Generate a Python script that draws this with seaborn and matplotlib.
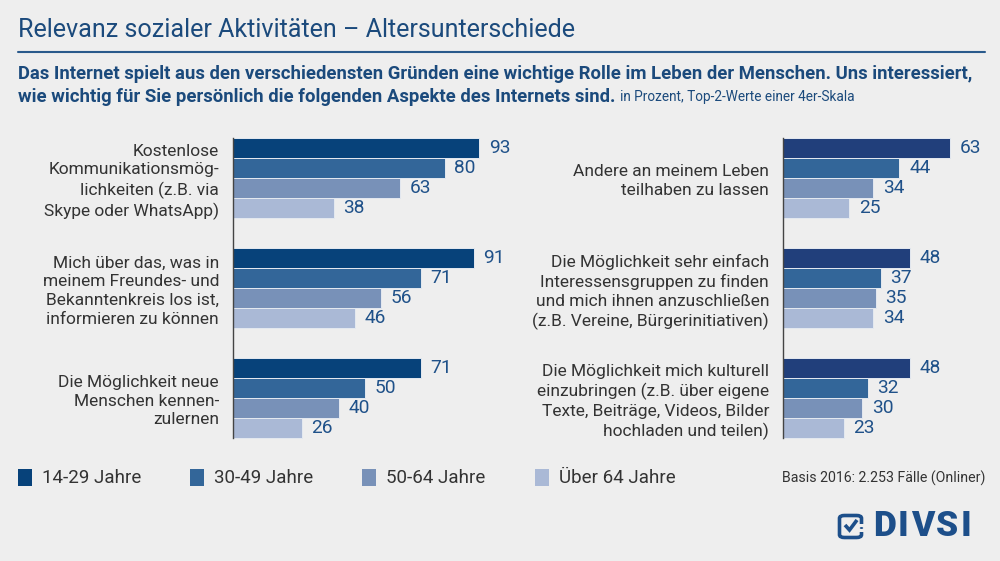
import matplotlib
matplotlib.use("Agg")
import matplotlib.pyplot as plt
import seaborn as sns
import pandas as pd
from matplotlib.patches import Rectangle, FancyBboxPatch, Circle
from matplotlib.lines import Line2D

# ---- data ----
age_groups = ["14-29 Jahre", "30-49 Jahre", "50-64 Jahre", "Über 64 Jahre"]

left_aspects = [
    "Kostenlose\nKommunikationsmög-\nlichkeiten (z.B. via\nSkype oder WhatsApp)",
    "Mich über das, was in\nmeinem Freundes- und\nBekanntenkreis los ist,\ninformieren zu können",
    "Die Möglichkeit neue\nMenschen kennen-\nzulernen",
]
left_14_29 = [93, 91, 71]
left_30_49 = [80, 71, 50]
left_50_64 = [63, 56, 40]
left_65plus = [38, 46, 26]

right_aspects = [
    "Andere an meinem Leben\nteilhaben zu lassen",
    "Die Möglichkeit sehr einfach\nInteressensgruppen zu finden\nund mich ihnen anzuschließen\n(z.B. Vereine, Bürgerinitiativen)",
    "Die Möglichkeit mich kulturell\neinzubringen (z.B. über eigene\nTexte, Beiträge, Videos, Bilder\nhochladen und teilen)",
]
right_14_29 = [63, 48, 48]
right_30_49 = [44, 37, 32]
right_50_64 = [34, 35, 30]
right_65plus = [25, 34, 23]

title = "Relevanz sozialer Aktivitäten – Altersunterschiede"
subtitle1 = "Das Internet spielt aus den verschiedensten Gründen eine wichtige Rolle im Leben der Menschen. Uns interessiert,"
subtitle2 = "wie wichtig für Sie persönlich die folgenden Aspekte des Internets sind."
subtitle_note = "in Prozent, Top-2-Werte einer 4er-Skala"
basis = "Basis 2016: 2.253 Fälle (Onliner)"
logo_text = "DIVSI"

# ---- style ----
BG = "#eeeeee"
BLUE_TXT = "#1b4a7c"
VAL_TXT = "#1f5189"
GREY_TXT = "#333333"
pal_left = ["#07427a", "#336699", "#7891b8", "#aab9d6"]
pal_right = ["#213f7b", "#336699", "#7891b8", "#aab9d6"]

sns.set_theme(style="white")
plt.rcParams["font.family"] = ["Roboto", "DejaVu Sans"]
plt.rcParams["figure.facecolor"] = BG
plt.rcParams["axes.facecolor"] = BG


def long_df(aspects, a, b, c, d):
    rows = []
    for i, asp in enumerate(aspects):
        for grp, vals in zip(age_groups, [a, b, c, d]):
            rows.append({"Aspekt": asp, "Alter": grp, "Wert": vals[i]})
    return pd.DataFrame(rows)


df_left = long_df(left_aspects, left_14_29, left_30_49, left_50_64, left_65plus)
df_right = long_df(right_aspects, right_14_29, right_30_49, right_50_64, right_65plus)

W, H = 1000, 561
fig = plt.figure(figsize=(10, 5.61), dpi=100)

scale = 2.645  # px per percent
ax_top_px, ax_bot_px = 123, 453


def make_axes(x0_px, xmax):
    return fig.add_axes([x0_px / W, 1 - ax_bot_px / H, xmax * scale / W,
                         (ax_bot_px - ax_top_px) / H])


axL = make_axes(233, 100)
axR = make_axes(783, 80)

for ax, df, aspects, pal, xmax in [(axL, df_left, left_aspects, pal_left, 100),
                                   (axR, df_right, right_aspects, pal_right, 80)]:
    sns.barplot(data=df, y="Aspekt", x="Wert", hue="Alter", order=aspects,
                hue_order=age_groups, palette=pal, orient="h", width=0.727,
                saturation=1, edgecolor="#e4e9f0", linewidth=0.7,
                legend=False, ax=ax, errorbar=None)
    ax.set_xlim(0, xmax)
    ax.set_ylim(2.5, -0.5)
    ax.set_xlabel("")
    ax.set_ylabel("")
    ax.set_xticks([])
    for s in ["top", "right", "bottom"]:
        ax.spines[s].set_visible(False)
    ax.spines["left"].set_color("#444444")
    ax.spines["left"].set_linewidth(1.0)
    ax.spines["left"].set_bounds(-0.3636, 2.3636)
    ax.tick_params(axis="y", length=0, pad=10)
    for lbl in ax.get_yticklabels():
        lbl.set_fontsize(12.5)
        lbl.set_color(GREY_TXT)
        lbl.set_multialignment("right")
        lbl.set_linespacing(1.3)
    for cont in ax.containers:
        ax.bar_label(cont, padding=7, fontsize=13.8, color=VAL_TXT)

# ---- title & subtitle ----
fig.text(18 / W, 1 - 30 / H, title, fontsize=18.1, color=BLUE_TXT,
         va="center", ha="left")
fig.add_artist(Line2D([18 / W, 985 / W], [1 - 52 / H, 1 - 52 / H],
                      color="#2a5a8c", lw=1.5))
fig.text(18 / W, 1 - 74 / H, subtitle1, fontsize=13.35, color=BLUE_TXT,
         weight="bold", va="center", ha="left")
t2 = fig.text(18 / W, 1 - 97 / H, subtitle2, fontsize=13.35, color=BLUE_TXT,
              weight="bold", va="center", ha="left")
fig.canvas.draw()
renderer = fig.canvas.get_renderer()
bb = t2.get_window_extent(renderer)
fig.text((bb.x1 + 5) / W, 1 - 97 / H, subtitle_note, fontsize=9.8,
         color=BLUE_TXT, va="center", ha="left")

# ---- legend ----
leg_x = [18, 190, 362, 535]
for x, grp, col in zip(leg_x, age_groups, pal_left):
    fig.add_artist(Rectangle((x / W, 1 - 486 / H), 14 / W, 17 / H,
                             transform=fig.transFigure, color=col, lw=0))
    fig.text((x + 24) / W, 1 - 478 / H, grp, fontsize=13.5, color=GREY_TXT,
             va="center", ha="left")

fig.text(985 / W, 1 - 478 / H, basis, fontsize=10.2, color=GREY_TXT,
         va="center", ha="right")

# ---- logo ----
LOGO = "#1d4f8a"
fig.add_artist(FancyBboxPatch((839.5 / W, 1 - 537.5 / H), 22 / W, 22 / H,
                              boxstyle="round,pad=0,rounding_size=0.005",
                              transform=fig.transFigure, fill=False,
                              edgecolor=LOGO, lw=2.6))
fig.add_artist(Rectangle((859 / W, 1 - 532 / H), 5 / W, 8 / H,
                         transform=fig.transFigure, color=BG, lw=0))
fig.add_artist(Circle((861.5 / W, 1 - 528 / H), 1.7 / W,
                      transform=fig.transFigure, color=LOGO, lw=0))
fig.add_artist(Line2D([845 / W, 849.5 / W, 857 / W],
                      [1 - 525 / H, 1 - 530 / H, 1 - 520 / H],
                      color=LOGO, lw=2.6, transform=fig.transFigure,
                      solid_capstyle="butt", solid_joinstyle="miter"))
x_cur = 873
for ch in logo_text:
    t = fig.text(x_cur / W, 1 - 527 / H, ch, fontsize=25.5, weight="black",
                 color=LOGO, va="center", ha="left")
    w = t.get_window_extent(renderer).width
    x_cur += w + 2

fig.savefig("out.png", dpi=100, facecolor=BG)
